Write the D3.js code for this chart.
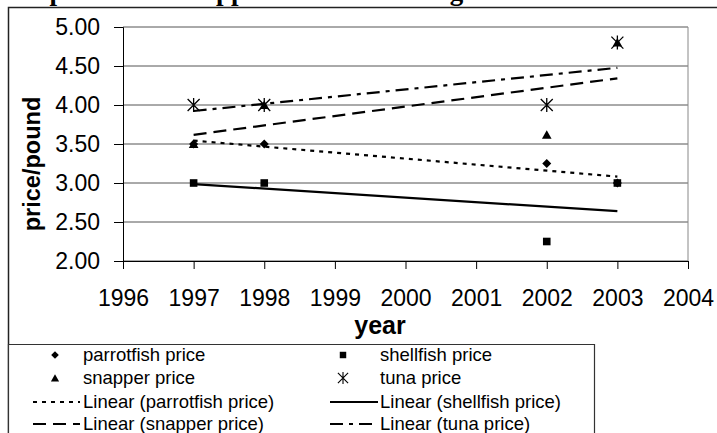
<!DOCTYPE html>
<html>
<head>
<meta charset="utf-8">
<script src="https://cdn.jsdelivr.net/npm/d3@7"></script>
<style>
  body { margin: 0; background: #fff; }
  svg { display: block; }
  text { font-family: "Liberation Sans", Arial, sans-serif; fill: #000; }
</style>
</head>
<body>
<script>
var years = [1997, 1998, 2002, 2003];
var parrotfish = [3.50, 3.50, 3.25, 3.00];
var shellfish = [3.00, 3.00, 2.25, 3.00];
var snapper = [3.50, 4.00, 3.62, 4.80];
var tuna = [4.00, 4.00, 4.00, 4.80];
var xTicks = [1996, 1997, 1998, 1999, 2000, 2001, 2002, 2003, 2004];
var yTicks = [2.00, 2.50, 3.00, 3.50, 4.00, 4.50, 5.00];
var seriesNames = ["parrotfish price", "shellfish price", "snapper price", "tuna price"];

var width = 717;
var height = 433;

var svg = d3.select("body").append("svg")
  .attr("width", width)
  .attr("height", height);

// title, clipped at the top of the picture (only descenders show)
svg.append("text")
  .attr("x", -6)
  .attr("y", 0)
  .style("font-family", "'Liberation Serif', 'Times New Roman', serif")
  .style("font-weight", "bold")
  .style("font-size", "27px")
  .text("Comparison of Snapper Prices to Average Prices");

// outer chart border
svg.append("path")
  .attr("d", "M8.5,433 L8.5,7.5 L717,7.5")
  .style("fill", "none")
  .style("stroke", "#222")
  .style("stroke-width", 1.5);

var x = d3.scaleLinear().domain([1996, 2004]).range([123, 688]);
var y = d3.scaleLinear().domain([2, 5]).range([261, 27]);

// gridlines
svg.append("g")
  .selectAll("line")
  .data(yTicks)
  .enter().append("line")
  .attr("x1", x(1996))
  .attr("x2", x(2004))
  .attr("y1", function(d) { return y(d); })
  .attr("y2", function(d) { return y(d); })
  .style("stroke", "#555")
  .style("stroke-width", 1);

// right edge of plot area
svg.append("line")
  .attr("x1", x(2004)).attr("x2", x(2004))
  .attr("y1", y(5)).attr("y2", y(2))
  .style("stroke", "#888");

// axes
var yAxis = svg.append("g")
  .attr("transform", "translate(" + x(1996) + ",0)")
  .call(d3.axisLeft(y).tickValues(yTicks).tickFormat(d3.format(".2f")).tickSize(9).tickPadding(14));

var xAxis = svg.append("g")
  .attr("transform", "translate(0," + y(2) + ")")
  .call(d3.axisBottom(x).tickValues(xTicks).tickFormat(d3.format("d")).tickSize(8).tickPadding(21));

[yAxis, xAxis].forEach(function(a) {
  a.select(".domain").style("stroke", "#000");
  a.selectAll(".tick line").style("stroke", "#000");
  a.selectAll("text")
    .style("font-family", "'Liberation Sans', Arial, sans-serif")
    .style("font-size", "23px")
    .style("fill", "#000");
});

svg.append("text")
  .attr("transform", "translate(40,164) rotate(-90)")
  .attr("text-anchor", "middle")
  .style("font-weight", "bold")
  .style("font-size", "23.5px")
  .text("price/pound");

svg.append("text")
  .attr("x", 380)
  .attr("y", 334)
  .attr("text-anchor", "middle")
  .style("font-weight", "bold")
  .style("font-size", "25px")
  .text("year");

// marker shapes
var markers = [
  "M0,-4.5L4.5,0L0,4.5L-4.5,0Z",
  "M-3.8,-3.8H3.8V3.8H-3.8Z",
  "M0,-4.5L4.8,4L-4.8,4Z",
  "M-6,-6L6,6M-6,6L6,-6M0,-7V7"
];
var dashes = ["4,5", null, "13,7", "13,6,4,6"];
var allSeries = [parrotfish, shellfish, snapper, tuna];

// linear trendlines (least squares over each series)
function trend(vals) {
  var mx = d3.mean(years), my = d3.mean(vals);
  var sxy = d3.sum(years, function(t, i) { return (t - mx) * (vals[i] - my); });
  var sxx = d3.sum(years, function(t) { return (t - mx) * (t - mx); });
  var b = sxy / sxx;
  var a = my - b * mx;
  var x0 = d3.min(years), x1 = d3.max(years);
  return [[x0, a + b * x0], [x1, a + b * x1]];
}

var line = d3.line()
  .x(function(d) { return x(d[0]); })
  .y(function(d) { return y(d[1]); });

allSeries.forEach(function(vals, s) {
  var g = svg.append("g");
  g.selectAll("path")
    .data(vals)
    .enter().append("path")
    .attr("transform", function(d, i) { return "translate(" + x(years[i]) + "," + y(d) + ")"; })
    .attr("d", markers[s])
    .style("fill", s == 3 ? "none" : "#000")
    .style("stroke", "#000")
    .style("stroke-width", s == 3 ? 1.3 : 0);
});

allSeries.forEach(function(vals, s) {
  svg.append("path")
    .datum(trend(vals))
    .attr("d", line)
    .style("fill", "none")
    .style("stroke", "#000")
    .style("stroke-width", 2.2)
    .style("stroke-dasharray", dashes[s]);
});

// legend
svg.append("path")
  .attr("d", "M8.5,433 L8.5,344.5 L594.5,344.5 L594.5,433")
  .style("fill", "#fff")
  .style("stroke", "#333")
  .style("stroke-width", 1.2);

var rowY = [355, 378, 402, 424];
var colSym = [55, 343];
var colText = [83, 380];
var colLine = [[33, 80], [330, 378]];

seriesNames.forEach(function(name, s) {
  var col = s % 2, row = Math.floor(s / 2);
  svg.append("path")
    .attr("transform", "translate(" + colSym[col] + "," + rowY[row] + ") scale(0.85)")
    .attr("d", markers[s])
    .style("fill", s == 3 ? "none" : "#000")
    .style("stroke", "#000")
    .style("stroke-width", s == 3 ? 1.3 : 0);
  svg.append("text")
    .attr("x", colText[col])
    .attr("y", rowY[row] + 6)
    .style("font-size", "18.5px")
    .text(name);

  var lrow = row + 2;
  svg.append("line")
    .attr("x1", colLine[col][0]).attr("x2", colLine[col][1])
    .attr("y1", rowY[lrow]).attr("y2", rowY[lrow])
    .style("stroke", "#000")
    .style("stroke-width", 2.2)
    .style("stroke-dasharray", dashes[s]);
  svg.append("text")
    .attr("x", colText[col])
    .attr("y", rowY[lrow] + 6)
    .style("font-size", "18.5px")
    .text("Linear (" + name + ")");
});
</script>
</body>
</html>
